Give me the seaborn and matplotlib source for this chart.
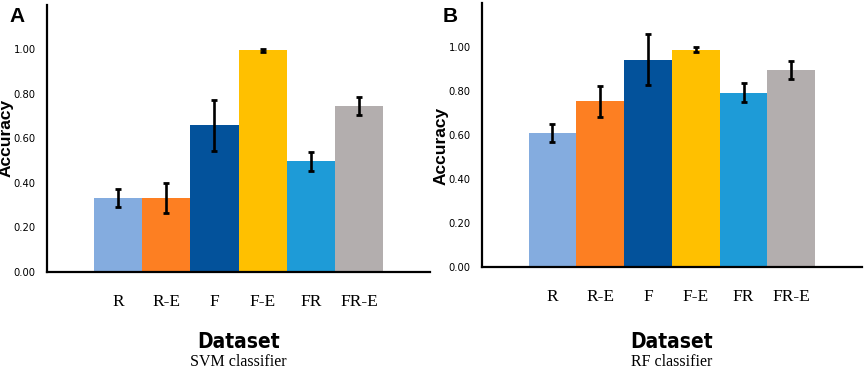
import seaborn as sns
import pandas as pd
import matplotlib.pyplot as plt
import numpy as np

datasets = ["R", "R-E", "F", "F-E", "FR", "FR-E"]
colors = ["#84ACDF", "#FD7F22", "#03529B", "#FFC000", "#1E9BD7", "#B3AEAE"]

svm_acc = [0.333, 0.333, 0.659, 0.995, 0.497, 0.745]
svm_err = [0.040, 0.067, 0.115, 0.008, 0.043, 0.040]

rf_acc = [0.609, 0.753, 0.943, 0.988, 0.793, 0.895]
rf_err = [0.042, 0.070, 0.117, 0.010, 0.045, 0.040]

yticks = [0.0, 0.2, 0.4, 0.6, 0.8, 1.0, 1.2]

sns.set_style("white")
plt.rcParams["text.color"] = "black"
plt.rcParams["xtick.color"] = "black"
plt.rcParams["ytick.color"] = "black"
plt.rcParams["axes.labelcolor"] = "black"
sans = ["Liberation Sans", "DejaVu Sans"]
serif = ["Liberation Serif", "DejaVu Serif"]

fig = plt.figure(figsize=(8.65, 3.7), dpi=100)

panels = [
    ("A", svm_acc, svm_err, "SVM classifier", [0.0543, 0.265, 0.443, 0.722]),
    ("B", rf_acc, rf_err, "RF classifier", [0.557, 0.278, 0.4395, 0.714]),
]

for letter, acc, err, name, rect in panels:
    ax = fig.add_axes(rect)
    df = pd.DataFrame({"Dataset": datasets, "Accuracy": acc, "err": err})
    sns.barplot(data=df, x="Dataset", y="Accuracy", hue="Dataset",
                palette=colors, saturation=1, width=1.0, linewidth=0,
                legend=False, ax=ax)
    # error bars at bar centres
    xs = [p.get_x() + p.get_width() / 2 for p in ax.patches]
    ax.errorbar(xs, df["Accuracy"], yerr=df["err"], fmt="none",
                ecolor="black", elinewidth=1.9, capsize=2.2, capthick=2)

    ax.set_xlim(-1.48, 6.48)
    ax.set_ylim(0, 1.2)
    ax.set_yticks(yticks)
    ax.set_yticklabels([f"{t:.2f}" if t < 1.1 else "" for t in yticks],
                       family="DejaVu Sans", fontstretch="condensed",
                       fontsize=8)
    ax.set_xticks(range(len(datasets)))
    ax.set_xticklabels(datasets, family=serif, fontsize=12.5)
    ax.tick_params(axis="x", length=0, pad=16)
    ax.tick_params(axis="y", direction="in", length=2.5, width=1.3,
                   color="black", pad=8)
    ax.set_xlabel("")
    ax.set_ylabel("")
    for s in ["top", "right"]:
        ax.spines[s].set_visible(False)
    for s in ["left", "bottom"]:
        ax.spines[s].set_color("black")
        ax.spines[s].set_linewidth(1.6)

    l, b, w, h = rect
    cx = l + w / 2
    fig.text(cx, 0.075, "Dataset", ha="center", va="center",
             fontsize=15, fontweight="bold", family="DejaVu Sans",
             fontstretch="condensed")
    fig.text(cx, 0.022, name, ha="center", va="center",
             fontsize=11.5, family=serif)
    fig.text(l - 0.047, b + h / 2 - (0.0 if letter == "A" else 0.03),
             "Accuracy", rotation=90, ha="center", va="center",
             fontsize=12.5, fontweight="bold", family=sans)
    fig.text(l - 0.043 if letter == "A" else l - 0.045, 0.955, letter,
             ha="left", va="center", fontsize=15, fontweight="bold",
             family=sans)

fig.savefig("out.png", dpi=100)
